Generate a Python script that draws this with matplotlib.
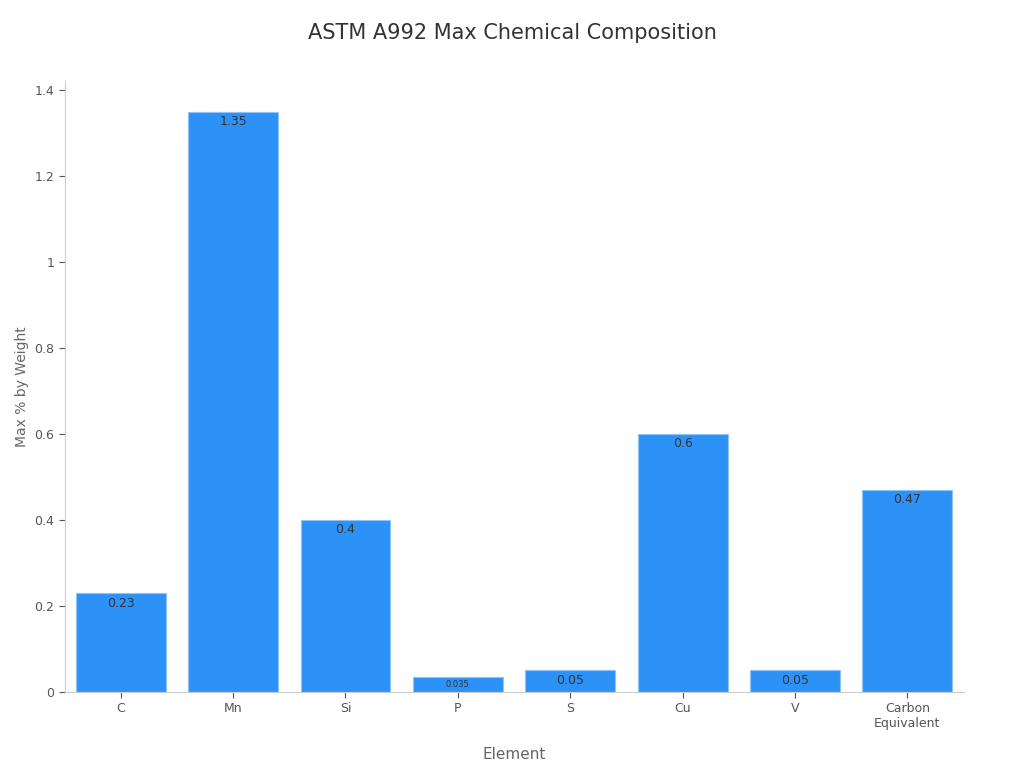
import matplotlib
matplotlib.use("Agg")
import matplotlib.pyplot as plt

categories = ["C", "Mn", "Si", "P", "S", "Cu", "V", "Carbon\nEquivalent"]
values = [0.23, 1.35, 0.4, 0.035, 0.05, 0.6, 0.05, 0.47]
labels = ["0.23", "1.35", "0.4", "0.035", "0.05", "0.6", "0.05", "0.47"]
yticks = [0, 0.2, 0.4, 0.6, 0.8, 1.0, 1.2, 1.4]
yticklabels = ["0", "0.2", "0.4", "0.6", "0.8", "1", "1.2", "1.4"]

plt.rcParams['font.family'] = ['DejaVu Sans']
fig = plt.figure(figsize=(10.24, 7.68), dpi=100)
ax = fig.add_axes([0.063, 0.099, 0.878, 0.795])
x = range(len(categories))
bars = ax.bar(x, values, width=0.8, color="#2d92f8", edgecolor="#8fc4f8", linewidth=0.8)
for xi, v, l in zip(x, values, labels):
    fs = 6 if v < 0.04 else 9
    ax.text(xi, v - 0.008, l, ha="center", va="top", fontsize=fs, color="#333333")
ax.set_xticks(list(x))
ax.set_xticklabels(categories, fontsize=9, color="#222222")
ax.set_yticks(yticks)
ax.set_yticklabels(yticklabels, fontsize=9, color="#222222")
ax.set_xlim(-0.5, 7.5)
ax.set_ylim(0, 1.42)
for s in ["top", "right"]:
    ax.spines[s].set_visible(False)
for s in ["left", "bottom"]:
    ax.spines[s].set_color("#cccccc")
ax.tick_params(colors="#555555", length=4)
ax.set_xlabel("Element", fontsize=11, color="#666666", labelpad=12)
ax.set_ylabel("Max % by Weight", fontsize=10, color="#666666")
fig.suptitle("ASTM A992 Max Chemical Composition", fontsize=15, color="#333333", y=0.97)
fig.savefig("out.png")
